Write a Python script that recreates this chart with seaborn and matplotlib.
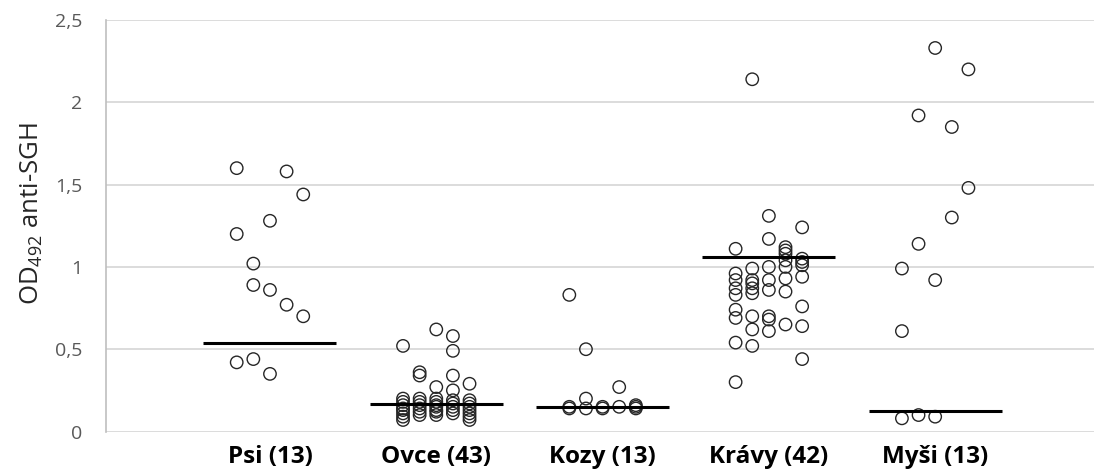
import matplotlib
matplotlib.use("Agg")
import matplotlib.pyplot as plt
import seaborn as sns
import pandas as pd

# Groups and their sample counts
groups = ["Psi", "Ovce", "Kozy", "Krávy", "Myši"]
counts = [13, 43, 13, 42, 13]

# OD492 values, split into the five side-by-side columns used for each group
psi = [
    [1.60, 1.20, 0.42],
    [1.02, 0.89, 0.44],
    [1.28, 0.86, 0.35],
    [1.58, 0.77],
    [1.44, 0.70],
]
ovce = [
    [0.52, 0.20, 0.18, 0.16, 0.14, 0.13, 0.11, 0.09, 0.07],
    [0.36, 0.34, 0.20, 0.18, 0.16, 0.14, 0.12, 0.10],
    [0.62, 0.27, 0.20, 0.18, 0.16, 0.15, 0.13, 0.12, 0.10],
    [0.58, 0.49, 0.34, 0.25, 0.19, 0.17, 0.15, 0.13, 0.11],
    [0.29, 0.19, 0.17, 0.15, 0.13, 0.11, 0.09, 0.07],
]
kozy = [
    [0.83, 0.15, 0.14],
    [0.50, 0.20, 0.14],
    [0.15, 0.14],
    [0.27, 0.15],
    [0.16, 0.15, 0.14],
]
kravy = [
    [1.11, 0.96, 0.92, 0.87, 0.83, 0.74, 0.69, 0.54, 0.30],
    [2.14, 0.99, 0.92, 0.90, 0.87, 0.84, 0.70, 0.62, 0.52],
    [1.31, 1.17, 1.00, 0.92, 0.86, 0.70, 0.68, 0.61],
    [1.12, 1.10, 1.08, 1.04, 1.00, 0.93, 0.85, 0.65],
    [1.24, 1.05, 1.03, 1.01, 0.94, 0.76, 0.64, 0.44],
]
mysi = [
    [0.99, 0.61, 0.08],
    [1.92, 1.14, 0.10],
    [2.33, 0.92, 0.09],
    [1.85, 1.30],
    [2.20, 1.48],
]
group_values = [psi, ovce, kozy, kravy, mysi]

# Horizontal reference level drawn for each group
group_lines = [0.54, 0.17, 0.15, 1.06, 0.125]

col_step = 0.1
rows = []
for gi, cols in enumerate(group_values):
    for ci, col in enumerate(cols):
        for v in col:
            rows.append({"x": gi + 1 + (ci - 2) * col_step, "od": v, "group": groups[gi]})
df = pd.DataFrame(rows)

sns.set_theme(style="white")
plt.rcParams["font.family"] = ["Open Sans", "DejaVu Sans"]
plt.rcParams["mathtext.default"] = "regular"

fig = plt.figure(figsize=(10.94, 4.73), dpi=100)
ax = fig.add_axes([106 / 1094, 41.5 / 473, 988 / 1094, 411.5 / 473])

ax.set_axisbelow(True)
ax.yaxis.grid(True, color="#d9d9d9", linewidth=1.3)
ax.xaxis.grid(False)

sns.scatterplot(
    data=df, x="x", y="od", ax=ax,
    marker="o", s=80, facecolors="none", edgecolor="#262626",
    linewidth=1.0, legend=False, zorder=3,
)

for gi, lvl in enumerate(group_lines):
    ax.hlines(lvl, gi + 1 - 0.4, gi + 1 + 0.4, color="black", linewidth=2.2, zorder=4)

ax.set_xlim(0.014, 5.955)
ax.set_ylim(0, 2.5)

ax.set_xticks(range(1, len(groups) + 1))
ax.set_xticklabels([f"{g} ({n})" for g, n in zip(groups, counts)],
                   fontsize=17.5, fontweight="bold", color="black")
yt = [0, 0.5, 1, 1.5, 2, 2.5]
ax.set_yticks(yt)
ax.set_yticklabels([f"{v:g}".replace(".", ",") for v in yt], fontsize=14, color="#595959")
ax.tick_params(axis="y", length=0, pad=17)
ax.tick_params(axis="x", length=0, pad=10)

ax.set_xlabel("")
ax.set_ylabel("OD$_{492}$ anti-SGH", fontsize=18.5, color="#262626")
ax.yaxis.set_label_coords(-0.062, 0.53)

for side in ["top", "right", "bottom"]:
    ax.spines[side].set_visible(False)
ax.spines["left"].set_color("#bfbfbf")
ax.spines["left"].set_linewidth(1.2)

fig.savefig("out.png", dpi=100, facecolor="white")
